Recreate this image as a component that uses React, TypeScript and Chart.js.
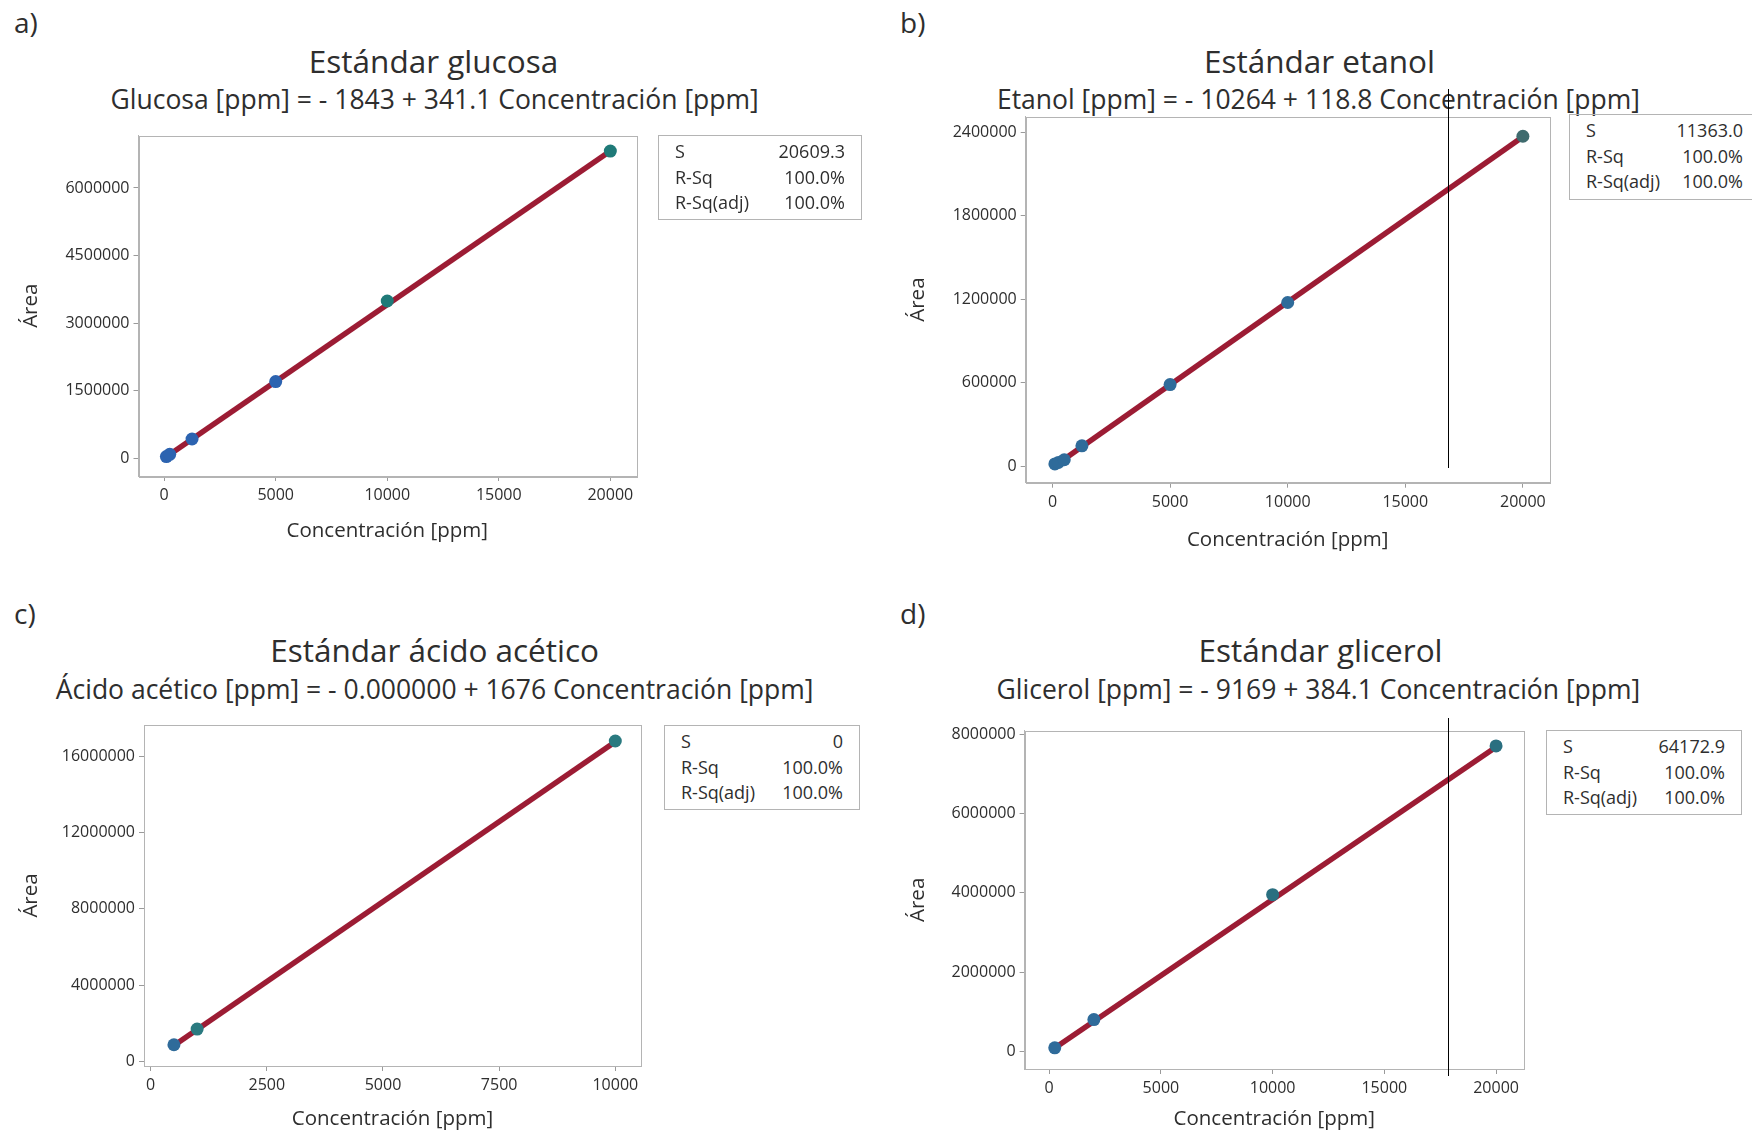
import React, { useEffect, useRef } from "react";
import { Chart, registerables } from "chart.js";

Chart.register(...registerables);

// ---------------- DATA ----------------
const glucosaConc = [100, 250, 1250, 5000, 10000, 20000];
const glucosaArea = [35000, 85000, 425000, 1700000, 3490000, 6820000];
const glucosaFitX = [100, 20000];
const glucosaFitY = [32267, 6820157];
const glucosaXTicks = [0, 5000, 10000, 15000, 20000];
const glucosaYTicks = [0, 1500000, 3000000, 4500000, 6000000];

const etanolConc = [100, 250, 500, 1250, 5000, 10000, 20000];
const etanolArea = [15000, 25000, 45000, 145000, 585000, 1175000, 2370000];
const etanolFitX = [100, 20000];
const etanolFitY = [1616, 2365736];
const etanolXTicks = [0, 5000, 10000, 15000, 20000];
const etanolYTicks = [0, 600000, 1200000, 1800000, 2400000];

const aceticoConc = [500, 1000, 10000];
const aceticoArea = [880000, 1700000, 16800000];
const aceticoFitX = [500, 10000];
const aceticoFitY = [838000, 16760000];
const aceticoXTicks = [0, 2500, 5000, 7500, 10000];
const aceticoYTicks = [0, 4000000, 8000000, 12000000, 16000000];

const gliceroConc = [250, 2000, 10000, 20000];
const gliceroArea = [90000, 800000, 3950000, 7700000];
const gliceroFitX = [250, 20000];
const gliceroFitY = [86856, 7672831];
const gliceroXTicks = [0, 5000, 10000, 15000, 20000];
const gliceroYTicks = [0, 2000000, 4000000, 6000000, 8000000];

const panelLetters = ["a)", "b)", "c)", "d)"];
const panelTitles = ["Estándar glucosa", "Estándar etanol", "Estándar ácido acético", "Estándar glicerol"];
const panelEquations = [
  "Glucosa [ppm] = - 1843 + 341.1 Concentración [ppm]",
  "Etanol [ppm] = - 10264 + 118.8 Concentración [ppm]",
  "Ácido acético [ppm] = - 0.000000 + 1676 Concentración [ppm]",
  "Glicerol [ppm] = - 9169 + 384.1 Concentración [ppm]",
];
const statLabels = ["S", "R-Sq", "R-Sq(adj)"];
const statValues = [
  ["20609.3", "100.0%", "100.0%"],
  ["11363.0", "100.0%", "100.0%"],
  ["0", "100.0%", "100.0%"],
  ["64172.9", "100.0%", "100.0%"],
];
const xAxisTitle = "Concentración [ppm]";
const yAxisTitle = "Área";

// ---------------- LAYOUT / STYLE ----------------
const FONT = "'Open Sans', 'Noto Sans', sans-serif";
const TEXT = "#2e2e2e";
const LINE_COLOR = "#9c1c34";
const BLUE = "#2c63b0";
const TEAL = "#1f7a78";
const STEEL = "#2f6b9a";

type Rect = { l: number; t: number; r: number; b: number };

const panels = [
  {
    conc: glucosaConc, area: glucosaArea, fitX: glucosaFitX, fitY: glucosaFitY,
    xTicks: glucosaXTicks, yTicks: glucosaYTicks,
    xMin: -1150, xMax: 21150, yMin: -397000, yMax: 7165000,
    canvas: { l: 15, t: 129, r: 660, b: 547 } as Rect,
    plot: { l: 138.5, t: 135, r: 636, b: 476 } as Rect,
    pointColors: [BLUE, BLUE, BLUE, BLUE, TEAL, TEAL],
    letter: { x: 29, y: 22 }, title: { x: 433.5, y: 61.5 }, eq: { x: 434.6, y: 99.4 },
    stats: { l: 658, t: 135, w: 204, h: 85 },
  },
  {
    conc: etanolConc, area: etanolArea, fitX: etanolFitX, fitY: etanolFitY,
    xTicks: etanolXTicks, yTicks: etanolYTicks,
    xMin: -1140, xMax: 21140, yMin: -120000, yMax: 2512000,
    canvas: { l: 902, t: 110, r: 1565, b: 556 } as Rect,
    plot: { l: 1025.7, t: 116, r: 1549.7, b: 482.7 } as Rect,
    pointColors: [STEEL, STEEL, STEEL, STEEL, STEEL, STEEL, "#3f6b6e"],
    letter: { x: 915, y: 22 }, title: { x: 1319.5, y: 61.5 }, eq: { x: 1318.4, y: 99.4 },
    stats: { l: 1569, t: 114, w: 230, h: 86 },
    statsPadRight: 55,
    vline: { x: 1448, t: 89, b: 468 },
  },
  {
    conc: aceticoConc, area: aceticoArea, fitX: aceticoFitX, fitY: aceticoFitY,
    xTicks: aceticoXTicks, yTicks: aceticoYTicks,
    xMin: -144, xMax: 10553, yMin: -234000, yMax: 17640000,
    canvas: { l: 15, t: 718, r: 655, b: 1135 } as Rect,
    plot: { l: 144, t: 725, r: 641, b: 1066 } as Rect,
    pointColors: [STEEL, "#2a7a80", "#2a7a80"],
    letter: { x: 29, y: 613 }, title: { x: 434.6, y: 650.3 }, eq: { x: 434.6, y: 689.4 },
    stats: { l: 664, t: 725, w: 196, h: 85 },
  },
  {
    conc: gliceroConc, area: gliceroArea, fitX: gliceroFitX, fitY: gliceroFitY,
    xTicks: gliceroXTicks, yTicks: gliceroYTicks,
    xMin: -1100, xMax: 21250, yMin: -445000, yMax: 8085000,
    canvas: { l: 902, t: 724, r: 1540, b: 1135 } as Rect,
    plot: { l: 1024.6, t: 730.7, r: 1524, b: 1069 } as Rect,
    pointColors: [STEEL, STEEL, "#2a6f80", "#2a6f80"],
    letter: { x: 915, y: 613 }, title: { x: 1320.6, y: 650.3 }, eq: { x: 1318.4, y: 689.4 },
    stats: { l: 1546, t: 730, w: 196, h: 85 },
    vline: { x: 1448, t: 718, b: 1076 },
  },
];

const boxPlugin = {
  id: "plotBox",
  beforeDatasetsDraw(chart: any) {
    const { ctx, chartArea: a } = chart;
    ctx.save();
    ctx.strokeStyle = "#b4b4b4";
    ctx.lineWidth = 1;
    ctx.strokeRect(Math.round(a.left) + 0.5, Math.round(a.top) + 0.5, Math.round(a.right - a.left), Math.round(a.bottom - a.top));
    ctx.restore();
  },
};

function zeroPad(s: any) {
  s.paddingTop = 0;
  s.paddingBottom = 0;
  s.paddingLeft = 0;
  s.paddingRight = 0;
}

function ChartPanel({ p }: { p: any }) {
  const ref = useRef<HTMLCanvasElement>(null);
  const cw = p.canvas.r - p.canvas.l;
  const ch = p.canvas.b - p.canvas.t;
  useEffect(() => {
    const yWidth = p.plot.l - p.canvas.l;
    const xHeight = p.canvas.b - p.plot.b;
    const padTop = p.plot.t - p.canvas.t;
    const padRight = p.canvas.r - p.plot.r;
    const tickFont = { family: FONT, size: 16 };
    const titleFont = { family: FONT, size: 20.5 };
    const gridOpts = {
      display: true,
      drawOnChartArea: false,
      drawTicks: true,
      tickLength: 5,
      color: "#9a9a9a",
    };
    const chart = new Chart(ref.current as HTMLCanvasElement, {
      type: "scatter",
      data: {
        datasets: [
          {
            data: p.conc.map((x: number, i: number) => ({ x, y: p.area[i] })),
            pointRadius: 6.5,
            pointBackgroundColor: p.pointColors,
            pointBorderColor: p.pointColors,
            pointBorderWidth: 0,
            showLine: false,
            order: 0,
          },
          {
            data: p.fitX.map((x: number, i: number) => ({ x, y: p.fitY[i] })),
            showLine: true,
            borderColor: LINE_COLOR,
            borderWidth: 5.5,
            pointRadius: 0,
            order: 1,
          },
        ],
      },
      options: {
        responsive: false,
        animation: false,
        layout: { padding: { top: padTop, right: padRight, left: 0, bottom: 0 } },
        plugins: { legend: { display: false }, tooltip: { enabled: false } },
        scales: {
          x: {
            type: "linear",
            min: p.xMin,
            max: p.xMax,
            afterBuildTicks: (s: any) => { s.ticks = p.xTicks.map((v: number) => ({ value: v })); },
            afterFit: (s: any) => { s.height = xHeight; zeroPad(s); },
            ticks: { autoSkip: false, maxRotation: 0, color: TEXT, font: tickFont, padding: 5, callback: (v: any) => String(v) },
            grid: gridOpts,
            border: { display: true, color: "#b4b4b4" },
            title: { display: true, text: xAxisTitle, color: TEXT, font: titleFont, padding: 4 },
          },
          y: {
            type: "linear",
            min: p.yMin,
            max: p.yMax,
            afterBuildTicks: (s: any) => { s.ticks = p.yTicks.map((v: number) => ({ value: v })); },
            afterFit: (s: any) => { s.width = yWidth; zeroPad(s); },
            ticks: { autoSkip: false, color: TEXT, font: tickFont, padding: 4, callback: (v: any) => String(v) },
            grid: gridOpts,
            border: { display: true, color: "#b4b4b4" },
            title: { display: true, text: yAxisTitle, color: TEXT, font: titleFont, padding: 4 },
          },
        },
      },
      plugins: [boxPlugin],
    } as any);
    return () => chart.destroy();
  }, []);
  return (
    <canvas
      ref={ref}
      width={cw}
      height={ch}
      style={{ position: "absolute", left: p.canvas.l, top: p.canvas.t, width: cw, height: ch }}
    />
  );
}

function centered(x: number, y: number, size: number, weight: number, text: string, key: string) {
  return (
    <div
      key={key}
      style={{
        position: "absolute",
        left: x - 500,
        top: y - size * 0.7,
        width: 1000,
        textAlign: "center",
        fontFamily: FONT,
        fontSize: size,
        fontWeight: weight,
        lineHeight: `${size * 1.4}px`,
        color: TEXT,
        whiteSpace: "nowrap",
      }}
    >
      {text}
    </div>
  );
}

export default function App() {
  return (
    <div
      style={{
        position: "fixed",
        left: 0,
        top: 0,
        width: 1752,
        height: 1135,
        overflow: "hidden",
        background: "#ffffff",
      }}
    >
      {panels.map((p: any, i) => (
        <React.Fragment key={i}>
          <div
            style={{
              position: "absolute",
              left: p.letter.x - 15,
              top: p.letter.y - 20,
              fontFamily: FONT,
              fontSize: 28,
              lineHeight: "40px",
              color: TEXT,
            }}
          >
            {panelLetters[i]}
          </div>
          {centered(p.title.x, p.title.y, 31.5, 500, panelTitles[i], "t" + i)}
          {centered(p.eq.x, p.eq.y, 26.5, 400, panelEquations[i], "e" + i)}
          <ChartPanel p={p} />
          <div
            style={{
              position: "absolute",
              left: p.stats.l,
              top: p.stats.t,
              width: p.stats.w,
              height: p.stats.h,
              border: "1px solid #b4b4b4",
              boxSizing: "border-box",
              padding: `3px ${p.statsPadRight || 16}px 0 16px`,
              fontFamily: FONT,
              fontSize: 18,
              color: TEXT,
              lineHeight: "25.5px",
            }}
          >
            {statLabels.map((lab, j) => (
              <div key={j} style={{ display: "flex", justifyContent: "space-between" }}>
                <span>{lab}</span>
                <span>{statValues[i][j]}</span>
              </div>
            ))}
          </div>
          {p.vline ? (
            <div
              style={{
                position: "absolute",
                left: p.vline.x,
                top: p.vline.t,
                width: 1.3,
                height: p.vline.b - p.vline.t,
                background: "#000000",
              }}
            />
          ) : null}
        </React.Fragment>
      ))}
    </div>
  );
}
